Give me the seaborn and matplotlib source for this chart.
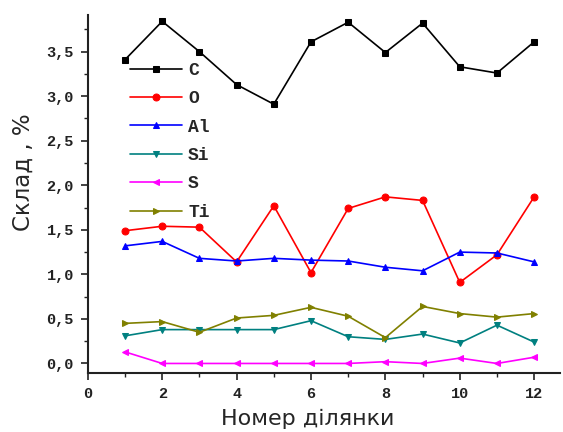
import matplotlib
matplotlib.use("Agg")
import matplotlib.pyplot as plt
from matplotlib.ticker import MultipleLocator, FuncFormatter
import seaborn as sns
import pandas as pd

sites = [1, 2, 3, 4, 5, 6, 7, 8, 9, 10, 11, 12]
c_vals = [3.41, 3.84, 3.50, 3.13, 2.91, 3.61, 3.83, 3.49, 3.82, 3.33, 3.26, 3.61]
o_vals = [1.49, 1.54, 1.53, 1.14, 1.77, 1.02, 1.74, 1.87, 1.83, 0.91, 1.22, 1.87]
al_vals = [1.32, 1.37, 1.18, 1.15, 1.18, 1.16, 1.15, 1.08, 1.04, 1.25, 1.24, 1.14]
si_vals = [0.31, 0.38, 0.38, 0.38, 0.38, 0.48, 0.30, 0.27, 0.33, 0.23, 0.43, 0.24]
s_vals = [0.13, 0.00, 0.00, 0.00, 0.00, 0.00, 0.00, 0.02, 0.00, 0.06, 0.00, 0.07]
ti_vals = [0.45, 0.47, 0.35, 0.51, 0.54, 0.63, 0.53, 0.29, 0.64, 0.56, 0.52, 0.56]

elements = ["C", "O", "Al", "Si", "S", "Ti"]
series = [c_vals, o_vals, al_vals, si_vals, s_vals, ti_vals]
colors = ["#000000", "#ff0000", "#0000ff", "#008080", "#ff00ff", "#808000"]
markers = ["s", "o", "^", "v", "<", ">"]

sns.set_style("ticks")
plt.rcParams["font.family"] = ["DejaVu Sans"]

fig = plt.figure(figsize=(5.63, 4.32), dpi=100)
ax = fig.add_axes([0.156, 0.137, 0.839, 0.828])

for name, vals, col, mk in zip(elements, series, colors, markers):
    df = pd.DataFrame({"site": sites, "value": vals})
    sns.lineplot(data=df, x="site", y="value", ax=ax, color=col, marker=mk,
                 markersize=5, markeredgecolor=col, linewidth=1.2, label=name)

ax.set_xlim(0, 12.7)
ax.set_ylim(-0.105, 3.91)
ax.xaxis.set_major_locator(MultipleLocator(2))
ax.xaxis.set_minor_locator(MultipleLocator(1))
ax.yaxis.set_major_locator(MultipleLocator(0.5))
ax.yaxis.set_minor_locator(MultipleLocator(0.25))
ax.yaxis.set_major_formatter(FuncFormatter(lambda v, p: f"{v:.1f}".replace(".", ",")))
ax.xaxis.set_major_formatter(FuncFormatter(lambda v, p: f"{int(v)}"))

for side in ["top", "right"]:
    ax.spines[side].set_visible(False)
for side in ["left", "bottom"]:
    ax.spines[side].set_linewidth(1.5)
    ax.spines[side].set_color("#222222")

ax.tick_params(which="major", direction="out", length=5, width=1.2, colors="#222222", pad=5)
ax.tick_params(which="minor", direction="out", length=3, width=1.0, colors="#222222")
for lbl in ax.get_xticklabels() + ax.get_yticklabels():
    lbl.set_family("Liberation Mono")
    lbl.set_fontsize(11)
    lbl.set_fontweight("bold")

ax.set_xlabel("Номер ділянки", fontsize=16, labelpad=6)
ax.xaxis.label.set_x(0.466)
ax.set_ylabel("Склад , %", fontsize=16.5)
ax.yaxis.set_label_coords(-0.112, 0.561)

leg = ax.legend(loc="upper left", bbox_to_anchor=(0.089, 0.869), frameon=False,
                borderpad=0, borderaxespad=0,
                handlelength=2.9, handletextpad=0.33, labelspacing=0.63,
                prop={"family": "Liberation Mono", "size": 13, "weight": "bold"})

fig.savefig("out.png", dpi=100)
